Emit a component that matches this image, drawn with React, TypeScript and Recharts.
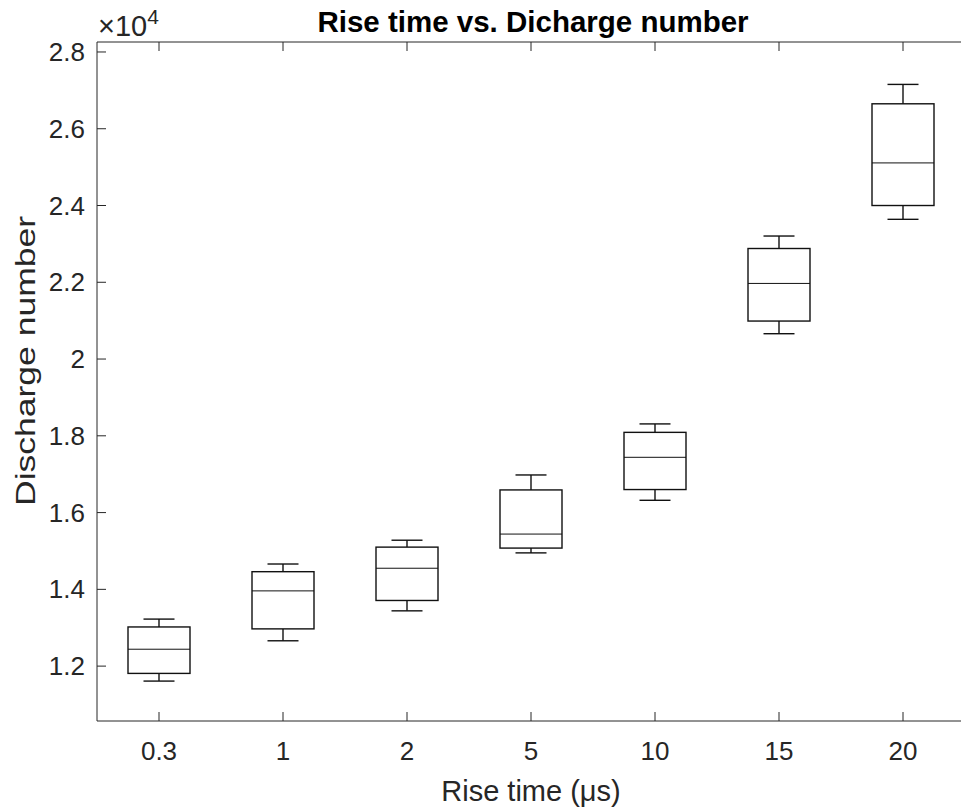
import React from 'react';
import { ComposedChart, Bar, XAxis, YAxis, Label } from 'recharts';

// rise time categories (µs)
const categories = ['0.3', '1', '2', '5', '10', '15', '20'];

// box plot stats per category (discharge counts)
const whiskerLow = [11610, 12660, 13440, 14950, 16320, 20660, 23640];
const quartile1 = [11810, 12970, 13710, 15075, 16600, 20990, 24000];
const medians = [12440, 13960, 14550, 15440, 17440, 21970, 25110];
const quartile3 = [13020, 14460, 15100, 16590, 18090, 22880, 26650];
const whiskerHigh = [13225, 14660, 15280, 16980, 18310, 23205, 27155];

const yTicks = [12000, 14000, 16000, 18000, 20000, 22000, 24000, 26000, 28000];
const yTickLabels = ['1.2', '1.4', '1.6', '1.8', '2', '2.2', '2.4', '2.6', '2.8'];

const FONT = '"Liberation Sans", Arial, Helvetica, sans-serif';
const AXIS_COLOR = '#262626';

const data = categories.map((cat, i) => ({
  cat,
  range: [whiskerLow[i], whiskerHigh[i]],
  low: whiskerLow[i],
  q1: quartile1[i],
  med: medians[i],
  q3: quartile3[i],
  high: whiskerHigh[i],
}));

const BoxShape = (props: any) => {
  const { x, y, width, height, payload } = props;
  if (!payload) return null;
  const top = Math.min(y, y + height);
  const span = Math.abs(height);
  const { low, high, q1, med, q3 } = payload;
  // map a value onto the bar's own pixel range
  const toY = (v: number) => top + ((high - v) / (high - low)) * span;
  const cx = x + width / 2;
  const capHalf = width / 4;
  const stroke = '#111';
  const sw = 1.4;
  return (
    <g>
      <line x1={cx} x2={cx} y1={toY(high)} y2={toY(q3)} stroke={stroke} strokeWidth={sw} />
      <line x1={cx} x2={cx} y1={toY(q1)} y2={toY(low)} stroke={stroke} strokeWidth={sw} />
      <line x1={cx - capHalf} x2={cx + capHalf} y1={toY(high)} y2={toY(high)} stroke={stroke} strokeWidth={sw} />
      <line x1={cx - capHalf} x2={cx + capHalf} y1={toY(low)} y2={toY(low)} stroke={stroke} strokeWidth={sw} />
      <rect x={x} y={toY(q3)} width={width} height={toY(q1) - toY(q3)} fill="none" stroke={stroke} strokeWidth={sw} />
      <line x1={x} x2={x + width} y1={toY(med)} y2={toY(med)} stroke={stroke} strokeWidth={1} />
    </g>
  );
};

const BottomTick = (props: any) => {
  const { x, y, payload } = props;
  return (
    <g>
      <line x1={x} x2={x} y1={y} y2={y - 9} stroke={AXIS_COLOR} strokeWidth={1} />
      <text x={x} y={y + 39} textAnchor="middle" fontSize={26} fontFamily={FONT} fill={AXIS_COLOR}>
        {payload.value}
      </text>
    </g>
  );
};

const TopTick = (props: any) => {
  const { x, y } = props;
  return <line x1={x} x2={x} y1={y} y2={y + 9} stroke={AXIS_COLOR} strokeWidth={1} />;
};

const LeftTick = (props: any) => {
  const { x, y, payload, index } = props;
  const label = yTickLabels[index] ?? String(payload.value / 10000);
  return (
    <g>
      <line x1={x} x2={x + 9} y1={y} y2={y} stroke={AXIS_COLOR} strokeWidth={1} />
      <text x={x - 12} y={y + 9} textAnchor="end" fontSize={26} fontFamily={FONT} fill={AXIS_COLOR}>
        {label}
      </text>
    </g>
  );
};

export default function App() {
  return (
    <div style={{ width: 961, height: 809, overflow: 'hidden', background: '#fff' }}>
      <style>{'body{margin:0}'}</style>
      <ComposedChart
        width={975}
        height={809}
        data={data}
        margin={{ top: 41, right: 10, bottom: 28, left: 37 }}
      >
        <XAxis
          dataKey="cat"
          type="category"
          height={60}
          tickSize={0}
          tickMargin={0}
          tick={<BottomTick />}
          axisLine={{ stroke: AXIS_COLOR, strokeWidth: 1 }}
          tickLine={false}
          interval={0}
        >
          <Label
            content={(p: any) => {
              const vb = p.viewBox;
              return (
                <text x={vb.x + vb.width / 2} y={vb.y + 80} textAnchor="middle" fontSize={29} fontFamily={FONT} fill={AXIS_COLOR}>
                  Rise time (μs)
                </text>
              );
            }}
          />
        </XAxis>
        <XAxis
          xAxisId="top"
          dataKey="cat"
          type="category"
          orientation="top"
          height={1}
          tickSize={0}
          tickMargin={0}
          tick={<TopTick />}
          axisLine={{ stroke: AXIS_COLOR, strokeWidth: 1 }}
          tickLine={false}
          interval={0}
        >
          <Label
            content={(p: any) => {
              const vb = p.viewBox;
              return (
                <text x={vb.x + vb.width / 2 + 2} y={32} textAnchor="middle" fontSize={29.5} fontWeight="bold" fontFamily={FONT} fill="#000">
                  Rise time vs. Dicharge number
                </text>
              );
            }}
          />
        </XAxis>
        <YAxis
          type="number"
          width={60}
          domain={[10570, 28260]}
          ticks={yTicks}
          allowDataOverflow
          tickSize={0}
          tickMargin={0}
          tick={<LeftTick />}
          axisLine={{ stroke: AXIS_COLOR, strokeWidth: 1 }}
          tickLine={false}
        >
          <Label
            content={() => {
              const cy = 361;
              return (
                <text
                  x={35}
                  y={cy}
                  transform={`rotate(-90 35 ${cy})`}
                  textAnchor="middle"
                  fontSize={27}
                  fontFamily={FONT}
                  fill={AXIS_COLOR}
                  textLength={290}
                  lengthAdjust="spacingAndGlyphs"
                >
                  Discharge number
                </text>
              );
            }}
          />
          <Label
            content={(p: any) => {
              const vb = p.viewBox;
              const x0 = vb.x + vb.width + 1;
              return (
                <text x={x0} y={vb.y - 6} fontSize={29} fontFamily={FONT} fill={AXIS_COLOR}>
                  ×10<tspan dy={-12} fontSize={21}>4</tspan>
                </text>
              );
            }}
          />
        </YAxis>
        <Bar dataKey="range" barSize={62} shape={<BoxShape />} isAnimationActive={false} />
      </ComposedChart>
    </div>
  );
}
